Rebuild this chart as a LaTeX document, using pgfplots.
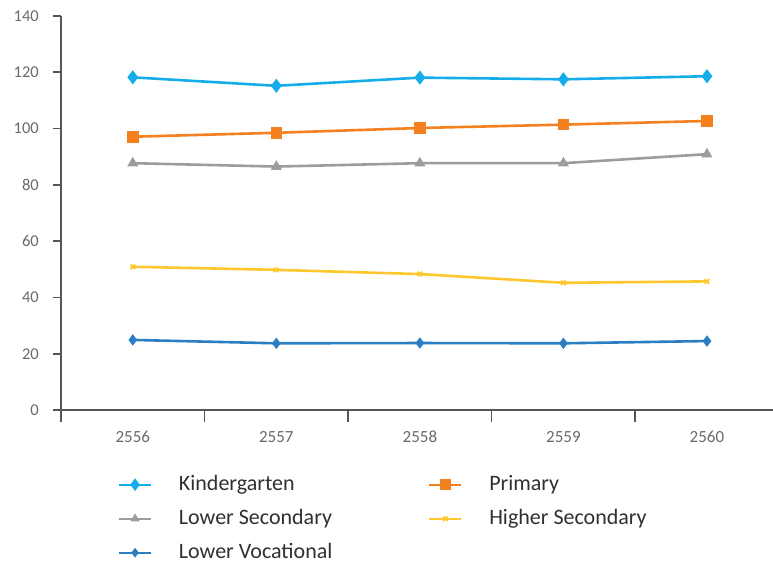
\documentclass[border=0pt]{standalone}
\usepackage{pgfplots}
\pgfplotsset{compat=1.18}
\usepackage{fontspec}
\setmainfont{Carlito}[Numbers=Lining]

\definecolor{kinder}{HTML}{14ADEA}
\definecolor{primary}{HTML}{F4801F}
\definecolor{lowsec}{HTML}{9C9C9C}
\definecolor{highsec}{HTML}{FFC72E}
\definecolor{lowvoc}{HTML}{2B7EC4}
\definecolor{axisgray}{HTML}{555555}
\definecolor{ticktext}{HTML}{6A6A6A}
\definecolor{legtext}{HTML}{303030}

\begin{document}
\begin{tikzpicture}
\useasboundingbox (0,0) rectangle (773pt,566pt);
\begin{axis}[
  at={(61pt,156pt)}, anchor=south west,
  scale only axis,
  width=712pt, height=394pt,
  xmin=-0.5, xmax=4.46,
  ymin=0, ymax=140,
  axis lines=left,
  axis line style={-, draw=axisgray, line width=2pt},
  ytick={0,20,...,140},
  xtick={0,1,2,3,4},
  xticklabels={2556,2557,2558,2559,2560},
  minor xtick={-0.5,0.5,1.5,2.5,3.5},
  tick align=outside,
  ytick style={draw=axisgray, line width=1.6pt},
  major tick length=8pt,
  major x tick style={draw=none},
  minor x tick style={draw=axisgray, line width=1.6pt},
  minor tick length=12pt,
  tick label style={font=\fontsize{16.5}{18}\selectfont, text=ticktext},
  /pgf/number format/assume math mode=true,
  yticklabel style={inner sep=0pt, xshift=-14pt},
  xticklabel style={inner sep=0pt, anchor=base, yshift=-24pt, font=\fontsize{17}{18}\selectfont},
  every axis plot/.append style={line width=2.6pt},
  legend columns=2,
  legend cell align=left,
  legend style={
    at={(0.080,-0.165)}, anchor=north west,
    draw=none, fill=none, inner sep=0pt,
    font=\fontsize{22}{24}\selectfont, text=legtext,
    nodes={inner sep=0pt, text height=15pt, text depth=4pt},
    row sep=15pt,
    /tikz/every odd column/.append style={column sep=27pt},
    /tikz/every even column/.append style={column sep=96pt},
    /tikz/column 3/.append style={column sep=32pt},
  },
  legend image code/.code={
    \draw[line width=1.8pt] (0pt,0pt) -- (32pt,0pt);
    \draw[line width=1.6pt, mark repeat=1] plot coordinates {(16pt,0pt)};
  },
]
\addplot[color=kinder, mark=diamond*, mark size=5pt] coordinates {
  (0,118.2) (1,115.2) (2,118.1) (3,117.5) (4,118.6)};
\addlegendentry{Kindergarten}
\addplot[color=primary, mark=square*, mark size=4.5pt] coordinates {
  (0,97.1) (1,98.5) (2,100.2) (3,101.4) (4,102.7)};
\addlegendentry{Primary}
\addplot[color=lowsec, mark=triangle*, mark size=3.8pt] coordinates {
  (0,87.7) (1,86.5) (2,87.7) (3,87.7) (4,90.9)};
\addlegendentry{Lower Secondary}
\addplot[color=highsec, mark=x, mark size=3.2pt, mark options={line width=1.8pt}] coordinates {
  (0,50.9) (1,49.8) (2,48.3) (3,45.2) (4,45.7)};
\addlegendentry{Higher Secondary}
\addplot[color=lowvoc, mark=diamond*, mark size=3.6pt] coordinates {
  (0,24.9) (1,23.7) (2,23.8) (3,23.7) (4,24.5)};
\addlegendentry{Lower Vocational}
\end{axis}
\end{tikzpicture}
\end{document}
